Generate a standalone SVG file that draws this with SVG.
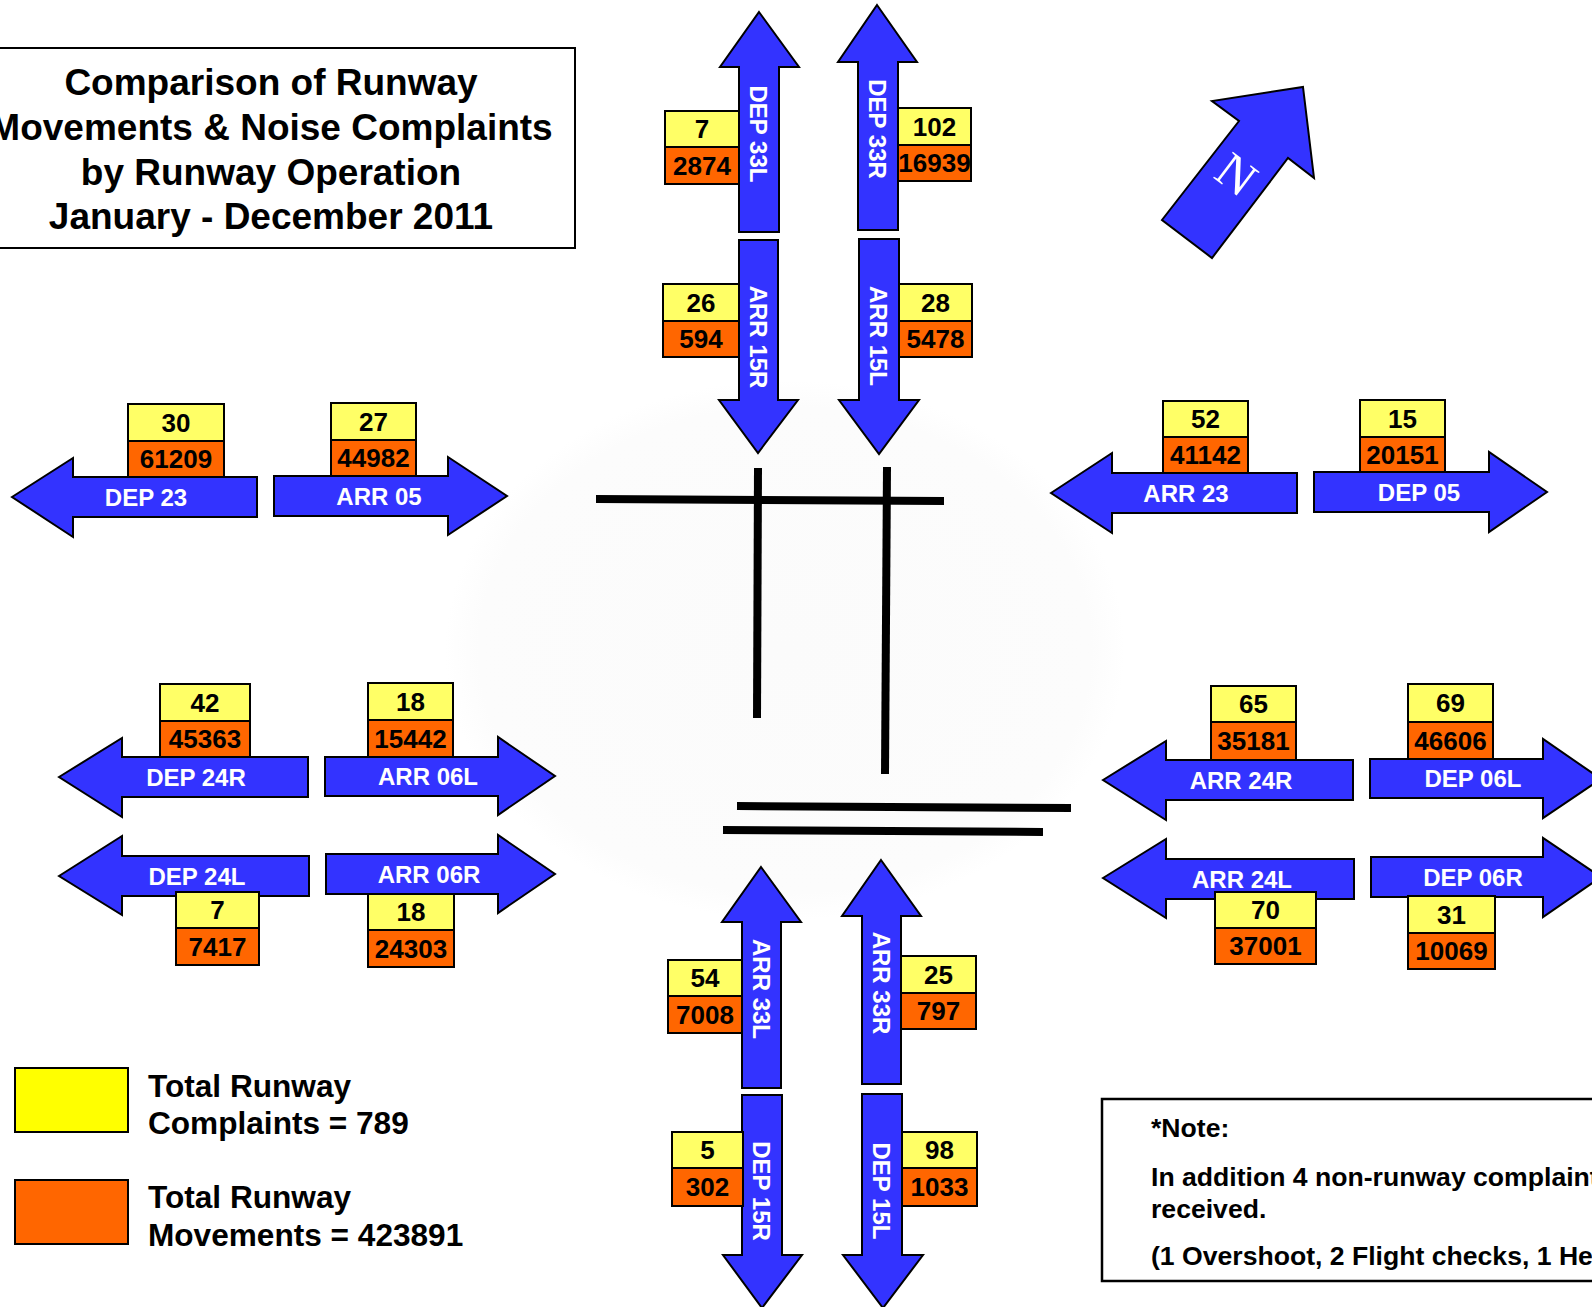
<svg xmlns="http://www.w3.org/2000/svg" width="1592" height="1307" viewBox="0 0 1592 1307">
<defs>
<style>
.arr{fill:#3333FF;stroke:#000;stroke-width:2;stroke-linejoin:miter}
.yb{fill:#FFFF66;stroke:#000;stroke-width:2}
.ob{fill:#FF6600;stroke:#000;stroke-width:2}
.num{font-family:"Liberation Sans",Arial,sans-serif;font-weight:bold;font-size:26px;fill:#000;text-anchor:middle}
.lbl{font-family:"Liberation Sans",Arial,sans-serif;font-weight:bold;font-size:24px;fill:#fff;text-anchor:middle}
.title{font-family:"Liberation Sans",Arial,sans-serif;font-weight:bold;font-size:37px;fill:#000;text-anchor:middle}
.leg{font-family:"Liberation Sans",Arial,sans-serif;font-weight:bold;font-size:31.6px;fill:#000}
.note{font-family:"Liberation Sans",Arial,sans-serif;font-weight:bold;font-size:26.6px;fill:#000}
.rwy{stroke:#000;stroke-width:8;fill:none}
</style>
<radialGradient id="bg" cx="0.5" cy="0.5" r="0.5">
<stop offset="0" stop-color="#fbfbfb"/>
<stop offset="0.9" stop-color="#fcfcfc"/>
<stop offset="1" stop-color="#ffffff"/>
</radialGradient>
</defs>
<rect x="0" y="0" width="1592" height="1307" fill="#fff"/>
<ellipse cx="785" cy="650" rx="340" ry="270" fill="url(#bg)"/>

<g id="title">
<rect x="-10" y="48" width="585" height="200" fill="#fff" stroke="#000" stroke-width="2"/>
<text class="title" x="271" y="95">Comparison of Runway</text>
<text class="title" x="271" y="140">Movements &amp; Noise Complaints</text>
<text class="title" x="271" y="185">by Runway Operation</text>
<text class="title" x="271" y="229">January - December 2011</text>
</g>

<g id="runways">
<line class="rwy" x1="596" y1="499" x2="944" y2="501"/>
<line class="rwy" x1="758" y1="468" x2="757" y2="718"/>
<line class="rwy" x1="887" y1="467" x2="885" y2="774"/>
<line class="rwy" x1="737" y1="806" x2="1071" y2="808"/>
<line class="rwy" x1="723" y1="830" x2="1043" y2="832"/>
</g>

<g id="north">
<polygon class="arr" points="1303,87 1314,178 1288,158 1212,258 1162,220 1239,121 1212,101"/>
<text x="0" y="0" transform="translate(1236,175) rotate(37)" font-family="'Liberation Serif','Times New Roman',serif" font-size="50" fill="#fff" text-anchor="middle" dy="16">N</text>
</g>

<g id="dep33l">
<polygon class="arr" points="759,12 799,67 779,67 779,232 739,232 739,67 720,67"/>
<text class="lbl" transform="translate(759,134) rotate(90)" y="8.6">DEP 33L</text>
<rect class="yb" x="665" y="111" width="74" height="36"/>
<rect class="ob" x="665" y="147" width="74" height="37"/>
<text class="num" x="702" y="138">7</text>
<text class="num" x="702" y="175">2874</text>
</g>

<g id="dep33r">
<polygon class="arr" points="877,5 917,62 898,62 898,230 858,230 858,62 838,62"/>
<text class="lbl" transform="translate(878,129) rotate(90)" y="8.6">DEP 33R</text>
<rect class="yb" x="898" y="108" width="73" height="37"/>
<rect class="ob" x="898" y="145" width="73" height="36"/>
<text class="num" x="934.5" y="136">102</text>
<text class="num" x="934.5" y="172">16939</text>
</g>

<g id="arr15r">
<polygon class="arr" points="739,240 778,240 778,400 798,400 758,453 719,400 739,400"/>
<text class="lbl" transform="translate(758.5,337) rotate(90)" y="8.6">ARR 15R</text>
<rect class="yb" x="663" y="284" width="76" height="37"/>
<rect class="ob" x="663" y="321" width="76" height="36"/>
<text class="num" x="701" y="312">26</text>
<text class="num" x="701" y="348">594</text>
</g>

<g id="arr15l">
<polygon class="arr" points="859,239 899,239 899,400 919,400 879,454 839,400 859,400"/>
<text class="lbl" transform="translate(879,336) rotate(90)" y="8.6">ARR 15L</text>
<rect class="yb" x="899" y="284" width="73" height="37"/>
<rect class="ob" x="899" y="321" width="73" height="36"/>
<text class="num" x="935.5" y="312">28</text>
<text class="num" x="935.5" y="348">5478</text>
</g>

<g id="dep23">
<polygon class="arr" points="12,497 73,458 73,477 257,477 257,517 73,517 73,537"/>
<text class="lbl" x="146" y="505.6">DEP 23</text>
<rect class="yb" x="128" y="404" width="96" height="37"/>
<rect class="ob" x="128" y="441" width="96" height="36"/>
<text class="num" x="176" y="432">30</text>
<text class="num" x="176" y="468">61209</text>
</g>

<g id="arr05">
<polygon class="arr" points="274,476 448,476 448,457 507,496 448,535 448,516 274,516"/>
<text class="lbl" x="379" y="504.6">ARR 05</text>
<rect class="yb" x="331" y="403" width="85" height="37"/>
<rect class="ob" x="331" y="440" width="85" height="36"/>
<text class="num" x="373.5" y="431">27</text>
<text class="num" x="373.5" y="467">44982</text>
</g>

<g id="arr23">
<polygon class="arr" points="1051,493 1112,453 1112,473 1297,473 1297,513 1112,513 1112,533"/>
<text class="lbl" x="1186" y="501.6">ARR 23</text>
<rect class="yb" x="1163" y="401" width="85" height="36"/>
<rect class="ob" x="1163" y="437" width="85" height="36"/>
<text class="num" x="1205.5" y="428">52</text>
<text class="num" x="1205.5" y="464">41142</text>
</g>

<g id="dep05">
<polygon class="arr" points="1314,472 1489,472 1489,452 1547,492 1489,532 1489,512 1314,512"/>
<text class="lbl" x="1419" y="500.6">DEP 05</text>
<rect class="yb" x="1360" y="400" width="85" height="37"/>
<rect class="ob" x="1360" y="437" width="85" height="35"/>
<text class="num" x="1402.5" y="428">15</text>
<text class="num" x="1402.5" y="464">20151</text>
</g>

<g id="dep24r">
<polygon class="arr" points="59,777 122,738 122,757 308,757 308,797 122,797 122,817"/>
<text class="lbl" x="196" y="785.6">DEP 24R</text>
<rect class="yb" x="160" y="684" width="90" height="37"/>
<rect class="ob" x="160" y="721" width="90" height="36"/>
<text class="num" x="205" y="712">42</text>
<text class="num" x="205" y="748">45363</text>
</g>

<g id="arr06l">
<polygon class="arr" points="325,757 498,757 498,737 555,776 498,815 498,796 325,796"/>
<text class="lbl" x="428" y="785">ARR 06L</text>
<rect class="yb" x="368" y="683" width="85" height="37"/>
<rect class="ob" x="368" y="720" width="85" height="37"/>
<text class="num" x="410.5" y="711">18</text>
<text class="num" x="410.5" y="748">15442</text>
</g>

<g id="dep24l">
<polygon class="arr" points="59,876 122,836 122,856 309,856 309,896 122,896 122,915"/>
<text class="lbl" x="197" y="884.6">DEP 24L</text>
<rect class="yb" x="176" y="892" width="83" height="36"/>
<rect class="ob" x="176" y="928" width="83" height="37"/>
<text class="num" x="217.5" y="919">7</text>
<text class="num" x="217.5" y="956">7417</text>
</g>

<g id="arr06r">
<polygon class="arr" points="326,854 498,854 498,835 555,874 498,913 498,894 326,894"/>
<text class="lbl" x="429" y="882.6">ARR 06R</text>
<rect class="yb" x="368" y="894" width="86" height="36"/>
<rect class="ob" x="368" y="930" width="86" height="37"/>
<text class="num" x="411" y="921">18</text>
<text class="num" x="411" y="958">24303</text>
</g>

<g id="arr24r">
<polygon class="arr" points="1103,780 1166,741 1166,760 1353,760 1353,800 1166,800 1166,820"/>
<text class="lbl" x="1241" y="788.6">ARR 24R</text>
<rect class="yb" x="1211" y="686" width="85" height="36"/>
<rect class="ob" x="1211" y="722" width="85" height="38"/>
<text class="num" x="1253.5" y="713">65</text>
<text class="num" x="1253.5" y="750">35181</text>
</g>

<g id="dep06l">
<polygon class="arr" points="1370,759 1543,759 1543,739 1601,779 1543,818 1543,798 1370,798"/>
<text class="lbl" x="1473" y="787">DEP 06L</text>
<rect class="yb" x="1408" y="684" width="85" height="38"/>
<rect class="ob" x="1408" y="722" width="85" height="37"/>
<text class="num" x="1450.5" y="712">69</text>
<text class="num" x="1450.5" y="750">46606</text>
</g>

<g id="arr24l">
<polygon class="arr" points="1103,878 1166,839 1166,859 1354,859 1354,899 1166,899 1166,918"/>
<text class="lbl" x="1242" y="887.6">ARR 24L</text>
<rect class="yb" x="1215" y="892" width="101" height="36"/>
<rect class="ob" x="1215" y="928" width="101" height="36"/>
<text class="num" x="1265.5" y="919">70</text>
<text class="num" x="1265.5" y="955">37001</text>
</g>

<g id="dep06r">
<polygon class="arr" points="1371,857 1543,857 1543,838 1601,877 1543,917 1543,897 1371,897"/>
<text class="lbl" x="1473" y="885.6">DEP 06R</text>
<rect class="yb" x="1408" y="896" width="87" height="37"/>
<rect class="ob" x="1408" y="933" width="87" height="36"/>
<text class="num" x="1451.5" y="924">31</text>
<text class="num" x="1451.5" y="960">10069</text>
</g>

<g id="arr33l">
<polygon class="arr" points="761,867 801,922 781,922 781,1088 742,1088 742,922 722,922"/>
<text class="lbl" transform="translate(761.5,989) rotate(90)" y="8.6">ARR 33L</text>
<rect class="yb" x="668" y="960" width="74" height="36"/>
<rect class="ob" x="668" y="996" width="74" height="37"/>
<text class="num" x="705" y="987">54</text>
<text class="num" x="705" y="1024">7008</text>
</g>

<g id="arr33r">
<polygon class="arr" points="881,860 921,916 901,916 901,1084 862,1084 862,916 842,916"/>
<text class="lbl" transform="translate(881.5,983) rotate(90)" y="8.6">ARR 33R</text>
<rect class="yb" x="901" y="956" width="75" height="37"/>
<rect class="ob" x="901" y="993" width="75" height="36"/>
<text class="num" x="938.5" y="984">25</text>
<text class="num" x="938.5" y="1020">797</text>
</g>

<g id="dep15r">
<polygon class="arr" points="742,1095 782,1095 782,1255 802,1255 762,1308 723,1255 742,1255"/>
<text class="lbl" transform="translate(762,1191) rotate(90)" y="8.6">DEP 15R</text>
<rect class="yb" x="672" y="1132" width="71" height="36"/>
<rect class="ob" x="672" y="1168" width="71" height="38"/>
<text class="num" x="707.5" y="1159">5</text>
<text class="num" x="707.5" y="1196">302</text>
</g>

<g id="dep15l">
<polygon class="arr" points="862,1094 902,1094 902,1255 923,1255 883,1308 843,1255 862,1255"/>
<text class="lbl" transform="translate(882,1191) rotate(90)" y="8.6">DEP 15L</text>
<rect class="yb" x="902" y="1132" width="75" height="36"/>
<rect class="ob" x="902" y="1168" width="75" height="38"/>
<text class="num" x="939.5" y="1159">98</text>
<text class="num" x="939.5" y="1196">1033</text>
</g>

<g id="legend">
<rect x="15" y="1068" width="113" height="64" fill="#FFFF00" stroke="#000" stroke-width="2"/>
<rect x="15" y="1180" width="113" height="64" fill="#FF6600" stroke="#000" stroke-width="2"/>
<text class="leg" x="148" y="1097">Total Runway</text>
<text class="leg" x="148" y="1134">Complaints = 789</text>
<text class="leg" x="148" y="1208">Total Runway</text>
<text class="leg" x="148" y="1246">Movements = 423891</text>
</g>

<g id="note">
<rect x="1102" y="1099" width="520" height="182" fill="#fff" stroke="#000" stroke-width="2.5"/>
<text class="note" x="1151" y="1137">*Note:</text>
<text class="note" x="1151" y="1186">In addition 4 non-runway complaint</text>
<text class="note" x="1151" y="1218">received.</text>
<text class="note" x="1151" y="1265">(1 Overshoot, 2 Flight checks, 1 He</text>
</g>
</svg>
